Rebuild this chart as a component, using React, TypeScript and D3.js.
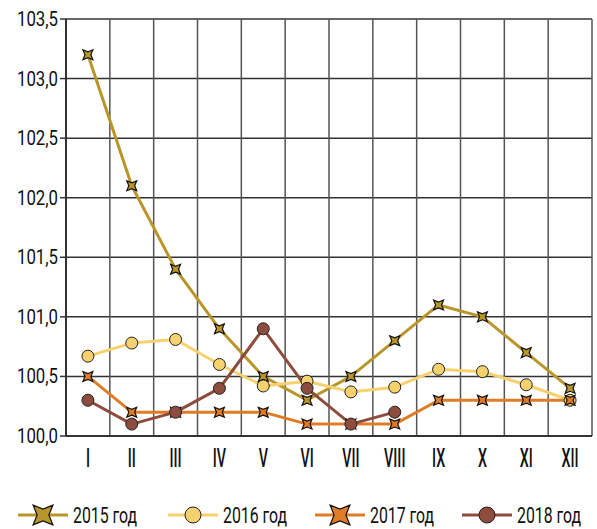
import React from "react";
import * as d3 from "d3";

const months = ["I", "II", "III", "IV", "V", "VI", "VII", "VIII", "IX", "X", "XI", "XII"];
const yTicks = [100.0, 100.5, 101.0, 101.5, 102.0, 102.5, 103.0, 103.5];
const s2015 = [103.2, 102.1, 101.4, 100.9, 100.5, 100.3, 100.5, 100.8, 101.1, 101.0, 100.7, 100.4];
const s2016 = [100.67, 100.78, 100.81, 100.6, 100.42, 100.46, 100.37, 100.41, 100.56, 100.54, 100.43, 100.3];
const s2017 = [100.5, 100.2, 100.2, 100.2, 100.2, 100.1, 100.1, 100.1, 100.3, 100.3, 100.3, 100.3];
const s2018 = [100.3, 100.1, 100.2, 100.4, 100.9, 100.4, 100.1, 100.2];
const seriesNames = ["2015 год", "2016 год", "2017 год", "2018 год"];

const series = [
  { name: seriesNames[0], values: s2015, color: "#B8962A", marker: "star" },
  { name: seriesNames[1], values: s2016, color: "#F7D16E", marker: "circle" },
  { name: seriesNames[2], values: s2017, color: "#E07C26", marker: "star" },
  { name: seriesNames[3], values: s2018, color: "#8E4C3F", marker: "circle" },
];

const FONT = "'Roboto', 'DejaVu Sans', sans-serif";

function starPath(cx: number, cy: number, r: number) {
  const inner = r * 0.42;
  const pts: string[] = [];
  for (let i = 0; i < 8; i++) {
    const ang = Math.PI / 4 + (i * Math.PI) / 4;
    const rr = i % 2 === 0 ? r : inner;
    pts.push(`${cx + rr * Math.cos(ang)},${cy + rr * Math.sin(ang)}`);
  }
  return "M" + pts.join("L") + "Z";
}

function Marker({ type, x, y, color, size }: { type: string; x: number; y: number; color: string; size: number }) {
  if (type === "circle") {
    return <circle cx={x} cy={y} r={size} fill={color} stroke="#222" strokeWidth={1} />;
  }
  return <path d={starPath(x, y, size)} fill={color} stroke="#111" strokeWidth={1.2} strokeLinejoin="miter" />;
}

function CText({ x, y, anchor, size, children, sx = 0.72, weight = "normal" }: { x: number; y: number; anchor: string; size: number; children: any; sx?: number; weight?: string }) {
  return (
    <g transform={`translate(${x},${y}) scale(${sx},1)`}>
      <text x={0} y={0} textAnchor={anchor as any} fontSize={size} fill="#111" fontWeight={weight}>
        {children}
      </text>
    </g>
  );
}

export default function App() {
  const W = 597, H = 529;
  const left = 66, right = 592, top = 19, bottom = 436;
  const x = d3.scaleBand<string>().domain(months).range([left, right]);
  const y = d3.scaleLinear().domain([100, 103.5]).range([bottom, top]);
  const cx = (i: number) => (x(months[i]) as number) + x.bandwidth() / 2;
  const line = d3.line<number>().x((_, i) => cx(i)).y((v) => y(v)).curve(d3.curveLinear);

  const legendX = [18, 168, 315, 462];

  return (
    <svg width={W} height={H} style={{ position: "absolute", left: 0, top: 0, background: "#fff" }} fontFamily={FONT}>
      {yTicks.map((t) => (
        <line key={"h" + t} x1={left} x2={right} y1={y(t)} y2={y(t)} stroke="#333" strokeWidth={1.5} />
      ))}
      {months.map((m) => (
        <line key={"v" + m} x1={x(m) as number} x2={x(m) as number} y1={top} y2={bottom} stroke="#555" strokeWidth={1.5} />
      ))}
      <line x1={right} x2={right} y1={top} y2={bottom} stroke="#555" strokeWidth={1.5} />
      <line x1={left} x2={left} y1={top} y2={bottom} stroke="#333" strokeWidth={2} />
      <line x1={left} x2={right} y1={bottom} y2={bottom} stroke="#333" strokeWidth={2} />
      {yTicks.map((t) => (
        <g key={"t" + t}>
          <line x1={left - 6} x2={left} y1={y(t)} y2={y(t)} stroke="#333" strokeWidth={1.5} />
          <CText x={left - 8} y={y(t) + 7} anchor="end" size={21} sx={0.8}>
            {t.toFixed(1).replace(".", ",")}
          </CText>
        </g>
      ))}
      {months.map((m, i) => (
        <CText key={"m" + m} x={cx(i)} y={bottom + 31} anchor="middle" size={26} sx={0.55} weight="500">
          {m}
        </CText>
      ))}
      {series.map((s) => (
        <path key={"l" + s.name} d={line(s.values) || ""} fill="none" stroke={s.color} strokeWidth={3} strokeLinejoin="round" />
      ))}
      {series.map((s) =>
        s.values.map((v, i) => (
          <Marker key={s.name + i} type={s.marker} x={cx(i)} y={y(v)} color={s.color} size={s.marker === "circle" ? 6 : 7} />
        ))
      )}
      {series.map((s, k) => (
        <g key={"lg" + s.name}>
          <line x1={legendX[k]} x2={legendX[k] + 50} y1={515} y2={515} stroke={s.color} strokeWidth={3} />
          <Marker type={s.marker} x={legendX[k] + 25} y={515} color={s.color} size={s.marker === "circle" ? 8 : 14} />
          <CText x={legendX[k] + 55} y={523} anchor="start" size={22}>
            {s.name}
          </CText>
        </g>
      ))}
    </svg>
  );
}
